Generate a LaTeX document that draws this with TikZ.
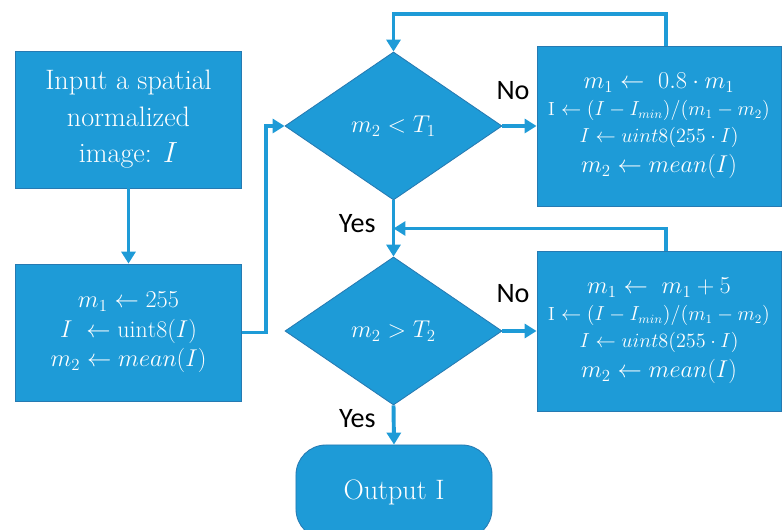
\documentclass[tikz,border=0pt]{standalone}
\usepackage{fontspec}
\newfontfamily\carlito{Carlito}
\usetikzlibrary{shapes.geometric,arrows.meta,calc}
\definecolor{flowblue}{RGB}{30,155,215}
\definecolor{edgeblue}{RGB}{38,122,178}

\begin{document}
\begin{tikzpicture}[x=0.025cm, y=-0.025cm, line join=miter,
  every node/.style={text=white},
  box/.style={draw=edgeblue, fill=flowblue, line width=0.6pt, align=center, inner sep=0pt},
  decision/.style={diamond, draw=edgeblue, fill=flowblue, line width=0.6pt, inner sep=0pt,
    minimum width=5.425cm, minimum height=3.7cm, font=\fontsize{16.5}{20}\selectfont},
  flow/.style={draw=flowblue, line width=2.8pt, -{Triangle[width=10pt,length=8.5pt]}},
  answer/.style={text=black, inner sep=0pt, font=\carlito\fontsize{20}{24}\selectfont}]

\useasboundingbox (0,0) rectangle (782,530);

% ---------- left column ----------
\node[box, minimum width=5.65cm, minimum height=3.425cm, font=\fontsize{20}{26}\selectfont]
  (input) at (128.5,119.5) {Input a spatial\\normalized\\image: $I$};
\node[box, minimum width=5.65cm, minimum height=3.425cm, font=\fontsize{17}{21}\selectfont]
  (init) at (128.5,332.5) {$m_1 \leftarrow 255$\\$I\ \leftarrow \mathrm{uint8}(I)$\\$m_2 \leftarrow mean(I)$};

% ---------- tests ----------
\node[decision] (test1) at (393.5,126) {$m_2 < T_1$};
\node[decision] (test2) at (393.5,331) {$m_2 > T_2$};

% ---------- updates ----------
\node[box, minimum width=6.1cm, minimum height=4cm, font=\fontsize{16.5}{16}\selectfont]
  (upd1) at (659,126) {$m_1 \leftarrow\ 0.8\cdot m_1$\\[3pt]
  {\fontsize{13.5}{16}\selectfont I $\leftarrow (I - I_{min})/(m_1 - m_2)$}\\[3pt]
  {\fontsize{13.5}{16}\selectfont $I \leftarrow uint8(255\cdot I)$}\\[4pt]
  $m_2 \leftarrow mean(I)$};
\node[box, minimum width=6.1cm, minimum height=4cm, font=\fontsize{16.5}{16}\selectfont]
  (upd2) at (659,331) {$m_1 \leftarrow\ m_1 + 5$\\[3pt]
  {\fontsize{13.5}{16}\selectfont I $\leftarrow (I - I_{min})/(m_1 - m_2)$}\\[3pt]
  {\fontsize{13.5}{16}\selectfont $I \leftarrow uint8(255\cdot I)$}\\[4pt]
  $m_2 \leftarrow mean(I)$};

% ---------- output ----------
\node[box, rounded corners=0.75cm, minimum width=4.9cm, minimum height=2.35cm, font=\fontsize{20}{24}\selectfont]
  (output) at (394,492) {Output I};

% ---------- connectors ----------
\draw[flow] (input) -- (init);
\draw[flow] (init.east) -- ++(0.6cm,0) |- (test1.west);
\draw[flow] (test1.east) -- node[answer, pos=0.31, above=0.6cm] (no1) {No} (upd1.west);
\draw[flow] ([xshift=0.18cm]upd1.north) -- ++(0,0.78cm) -| (test1.north);
\draw[flow] (test1.south) -- node[answer, pos=0.42, left=0.4cm] (yes1) {Yes} (test2.north);
\draw[flow] ([xshift=0.18cm]upd2.north) |- ($(test1.south)!0.5!(test2.north)$);
\draw[flow] (test2.east) -- node[answer, pos=0.31, above=0.65cm] (no2) {No} (upd2.west);
\draw[flow] (test2.south) -- node[answer, pos=0.33, left=0.4cm] (yes2) {Yes} (output.north);

\end{tikzpicture}
\end{document}
